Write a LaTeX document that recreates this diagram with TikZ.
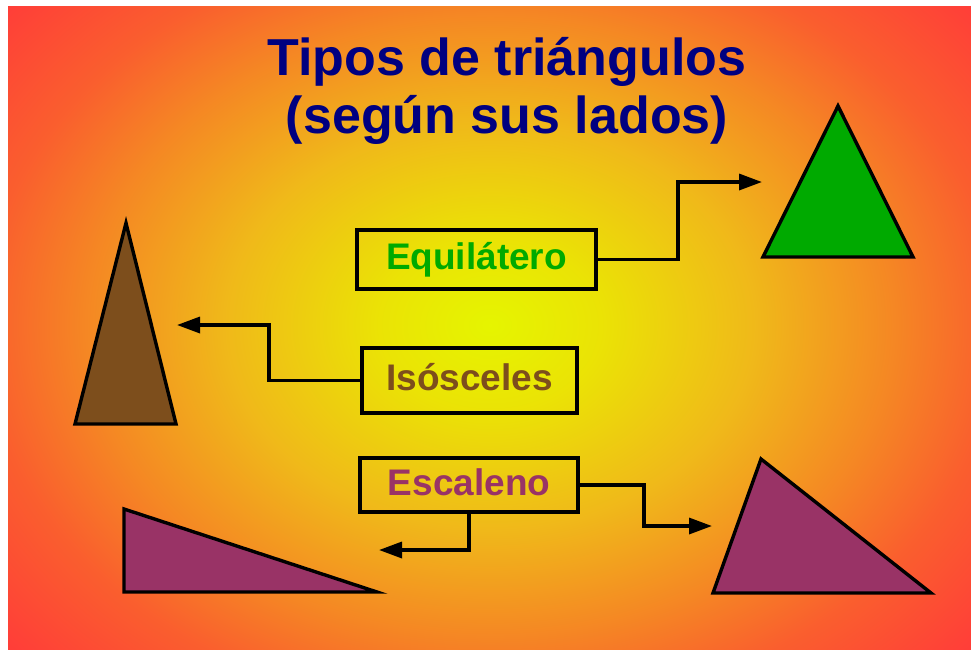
\documentclass[tikz,border=0pt]{standalone}
\usepackage{fontspec}
\setmainfont{Liberation Sans}
\usetikzlibrary{arrows.meta}
\definecolor{titleblue}{RGB}{0,0,128}
\definecolor{eqgreen}{RGB}{0,170,0}
\definecolor{isobrown}{RGB}{125,78,28}
\definecolor{escpurple}{RGB}{153,51,102}
\pgfdeclareradialshading{bgshade}{\pgfpoint{0bp}{0bp}}{rgb(0bp)=(0.9,0.96,0); rgb(4.2bp)=(0.92,0.89,0.02); rgb(10bp)=(0.94,0.725,0.1); rgb(15.3bp)=(0.96,0.53,0.14); rgb(19.2bp)=(0.98,0.37,0.18); rgb(24bp)=(1,0.245,0.22); rgb(25bp)=(1,0.235,0.22); rgb(50bp)=(1,0.235,0.22)}
\begin{document}
\begin{tikzpicture}[x=1pt,y=-1pt,
  labelbox/.style={draw=black, line width=3.2pt, inner sep=0pt, font=\fontsize{37}{40}\selectfont\bfseries, text height=27pt, text depth=7pt},
  titletext/.style={font=\fontsize{52}{58}\selectfont\bfseries, text=titleblue, anchor=base, inner sep=0pt},
  conn/.style={draw=black, line width=3.4pt, -{Triangle[length=23pt,width=16pt]}},
  tri/.style={draw=black, line width=3.4pt, line join=miter}]
\useasboundingbox (0,0) rectangle (971,649);
\fill[white] (0,0) rectangle (971,649);
\begin{scope}
\clip (8,6) rectangle (971,649);
\shade[shading=bgshade] (490,325) ellipse [x radius=660pt, y radius=508pt];
\end{scope}
% title
\node[titletext] (title1) at (507,75) {Tipos de triángulos};
\node[titletext] (title2) at (507,133) {(según sus lados)};
% label boxes
\node[labelbox, minimum width=239pt, minimum height=59pt, text=eqgreen] (eq) at (476.5,259.5) {Equilátero};
\node[labelbox, minimum width=215pt, minimum height=65pt, text=isobrown] (iso) at (469.5,380.5) {Isósceles};
\node[labelbox, minimum width=218pt, minimum height=54pt, text=escpurple] (esc) at (469,485) {Escaleno};
% triangles
\draw[tri, fill=eqgreen] (838,106) -- (763,257) -- (913,257) -- cycle;
\draw[tri, fill=isobrown] (126,223) -- (75,424) -- (176,424) -- cycle;
\draw[tri, fill=escpurple] (124,509) -- (124,592) -- (377,592) -- cycle;
\draw[tri, fill=escpurple] (761,459) -- (713,593) -- (931,593) -- cycle;
% connectors
\coordinate (eqtip) at (762,182);
\coordinate (isotip) at (177,325);
\coordinate (escR) at (712,526);
\coordinate (escL) at (379,550);
\draw[conn] (eq.east) -| (678,182) -- (eqtip);
\draw[conn] (iso.west) -| (269,325) -- (isotip);
\draw[conn] (esc.east) -| (644,526) -- (escR);
\draw[conn] (esc.south) |- (escL);
\end{tikzpicture}
\end{document}
